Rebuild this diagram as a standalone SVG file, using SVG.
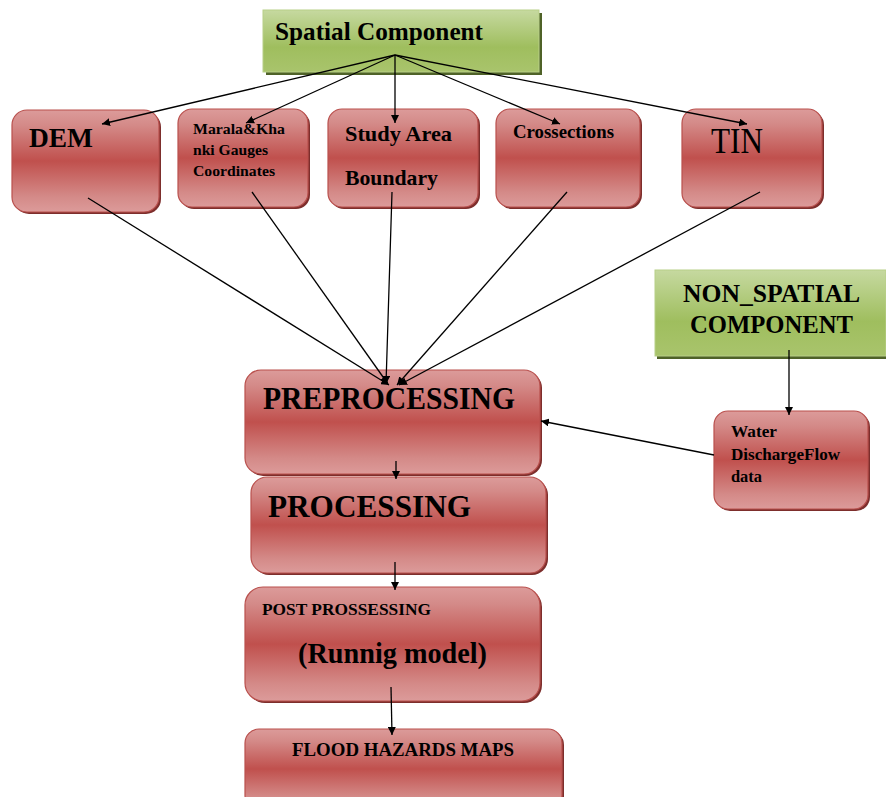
<svg xmlns="http://www.w3.org/2000/svg" width="886" height="797" viewBox="0 0 886 797">
<defs>
<linearGradient id="red" x1="0" y1="0" x2="0" y2="1">
<stop offset="0" stop-color="#dc9b9a"/>
<stop offset="0.15" stop-color="#d48a88"/>
<stop offset="0.5" stop-color="#c0504d"/>
<stop offset="0.85" stop-color="#d48a88"/>
<stop offset="1" stop-color="#dc9b9a"/>
</linearGradient>
<linearGradient id="green" x1="0" y1="0" x2="0" y2="1">
<stop offset="0" stop-color="#c6d9a0"/>
<stop offset="0.6" stop-color="#9fbe5e"/>
<stop offset="1" stop-color="#a9c46c"/>
</linearGradient>
<marker id="arr" viewBox="0 0 10 10" refX="10" refY="5" markerWidth="8" markerHeight="8" markerUnits="userSpaceOnUse" orient="auto">
<path d="M0,0 L10,5 L0,10 z" fill="#000"/>
</marker>
<style>
.rbox{fill:url(#red);stroke:#b9504d;stroke-width:1.2}
.rsh{fill:#7d2e2c}
.gbox{fill:url(#green);stroke:#b8cf88;stroke-width:1}
.gsh{fill:#4f6228}
.t{font-family:"Liberation Serif","Times New Roman",serif;font-weight:bold;fill:#000}
.c{stroke:#000;stroke-width:1.3;fill:none;marker-end:url(#arr)}
</style>
</defs>

<g id="spatial">
<rect class="gsh" x="266" y="13" width="276" height="62"/>
<rect class="gbox" x="263" y="10" width="276" height="62"/>
<text class="t" x="275" y="40" font-size="25" textLength="208" lengthAdjust="spacingAndGlyphs">Spatial Component</text>
</g>

<g id="dem">
<rect class="rsh" x="14" y="112" width="147" height="102" rx="15"/>
<rect class="rbox" x="12" y="110" width="147" height="102" rx="15"/>
<text class="t" x="29" y="147" font-size="27" textLength="64" lengthAdjust="spacingAndGlyphs">DEM</text>
</g>

<g id="marala">
<rect class="rsh" x="180" y="111" width="130" height="98" rx="14"/>
<rect class="rbox" x="178" y="109" width="130" height="98" rx="14"/>
<text class="t" x="193" y="134" font-size="15" textLength="92" lengthAdjust="spacingAndGlyphs">Marala&amp;Kha</text>
<text class="t" x="193" y="155" font-size="15" textLength="75" lengthAdjust="spacingAndGlyphs">nki Gauges</text>
<text class="t" x="193" y="176" font-size="15" textLength="82" lengthAdjust="spacingAndGlyphs">Coordinates</text>
</g>

<g id="study">
<rect class="rsh" x="330" y="111" width="150" height="98" rx="14"/>
<rect class="rbox" x="328" y="109" width="150" height="98" rx="14"/>
<text class="t" x="345" y="141" font-size="21" textLength="107" lengthAdjust="spacingAndGlyphs">Study Area</text>
<text class="t" x="345" y="185" font-size="21" textLength="93" lengthAdjust="spacingAndGlyphs">Boundary</text>
</g>

<g id="cross">
<rect class="rsh" x="498" y="111" width="144" height="98" rx="14"/>
<rect class="rbox" x="496" y="109" width="144" height="98" rx="14"/>
<text class="t" x="513" y="138" font-size="18" textLength="101" lengthAdjust="spacingAndGlyphs">Crossections</text>
</g>

<g id="tin">
<rect class="rsh" x="684" y="111" width="140" height="98" rx="14"/>
<rect class="rbox" x="682" y="109" width="140" height="98" rx="14"/>
<text x="711" y="153" font-size="35" textLength="52" lengthAdjust="spacingAndGlyphs" font-family="Liberation Serif, Times New Roman, serif" fill="#000">TIN</text>
</g>

<g id="nonspatial">
<rect class="gsh" x="657" y="273" width="231" height="86"/>
<rect class="gbox" x="655" y="270" width="231" height="86"/>
<text class="t" x="683" y="302" font-size="26" textLength="177" lengthAdjust="spacingAndGlyphs">NON_SPATIAL</text>
<text class="t" x="690" y="333" font-size="26" textLength="163" lengthAdjust="spacingAndGlyphs">COMPONENT</text>
</g>

<g id="water">
<rect class="rsh" x="716" y="413" width="154" height="98" rx="14"/>
<rect class="rbox" x="714" y="411" width="154" height="98" rx="14"/>
<text class="t" x="731" y="437" font-size="17" textLength="46" lengthAdjust="spacingAndGlyphs">Water</text>
<text class="t" x="731" y="460" font-size="17" textLength="109" lengthAdjust="spacingAndGlyphs">DischargeFlow</text>
<text class="t" x="731" y="482" font-size="17" textLength="31" lengthAdjust="spacingAndGlyphs">data</text>
</g>

<g id="preprocessing">
<rect class="rsh" x="247" y="372" width="295" height="104" rx="16"/>
<rect class="rbox" x="245" y="370" width="295" height="104" rx="16"/>
<text class="t" x="263" y="409" font-size="31" textLength="252" lengthAdjust="spacingAndGlyphs">PREPROCESSING</text>
</g>

<g id="processing">
<rect class="rsh" x="253" y="479" width="295" height="96" rx="16"/>
<rect class="rbox" x="251" y="477" width="295" height="96" rx="16"/>
<text class="t" x="268" y="517" font-size="31" textLength="203" lengthAdjust="spacingAndGlyphs">PROCESSING</text>
</g>

<g id="postprocessing">
<rect class="rsh" x="247" y="589" width="295" height="114" rx="18"/>
<rect class="rbox" x="245" y="587" width="295" height="114" rx="18"/>
<text class="t" x="262" y="615" font-size="17" textLength="169" lengthAdjust="spacingAndGlyphs">POST PROSSESSING</text>
<text class="t" x="298" y="663" font-size="29" textLength="189" lengthAdjust="spacingAndGlyphs">(Runnig model)</text>
</g>

<g id="flood">
<rect class="rsh" x="247" y="731" width="317" height="80" rx="14"/>
<rect class="rbox" x="245" y="729" width="317" height="80" rx="14"/>
<text class="t" x="292" y="756" font-size="18" textLength="222" lengthAdjust="spacingAndGlyphs">FLOOD HAZARDS MAPS</text>
</g>

<g id="connectors">
<line class="c" x1="395" y1="55" x2="102" y2="124"/>
<line class="c" x1="395" y1="55" x2="246" y2="123"/>
<line class="c" x1="395" y1="55" x2="395" y2="123"/>
<line class="c" x1="395" y1="55" x2="560" y2="124"/>
<line class="c" x1="395" y1="55" x2="747" y2="124"/>
<line class="c" x1="88" y1="198" x2="389" y2="385"/>
<line class="c" x1="252" y1="192" x2="388" y2="384"/>
<line class="c" x1="392" y1="192" x2="386" y2="384"/>
<line class="c" x1="567" y1="192" x2="397" y2="385"/>
<line class="c" x1="760" y1="192" x2="399" y2="385"/>
<line class="c" x1="789" y1="350" x2="789" y2="415"/>
<line class="c" x1="714" y1="455" x2="541" y2="421"/>
<line class="c" x1="396" y1="461" x2="396" y2="479"/>
<line class="c" x1="395" y1="562" x2="395" y2="590"/>
<line class="c" x1="391" y1="687" x2="392" y2="735"/>
</g>
</svg>
